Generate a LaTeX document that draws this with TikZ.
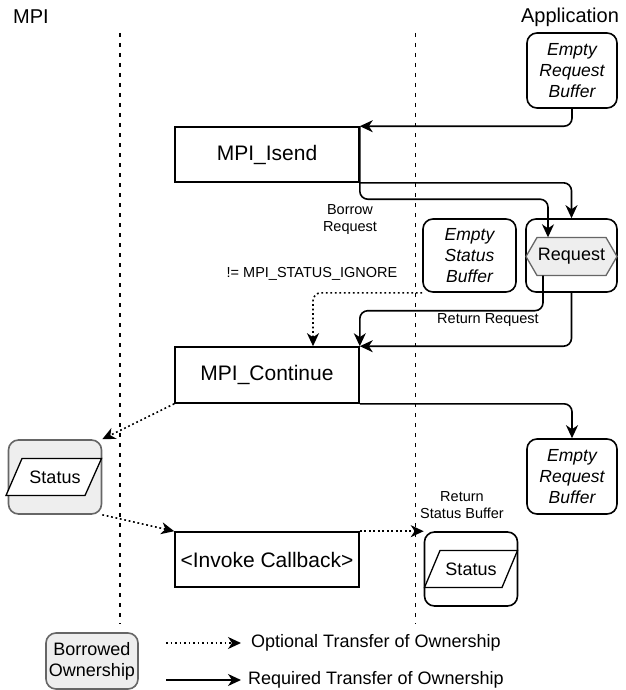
\documentclass[tikz,border=0pt]{standalone}
\usepackage{fontspec}
\setmainfont{Liberation Sans}
\usetikzlibrary{arrows.meta,calc}
\definecolor{gfill}{HTML}{EEEEEE}
\definecolor{gline}{HTML}{666666}
\tikzset{
  lane/.style={line width=1.4pt, dash pattern=on 4pt off 6pt},
  proc/.style={draw, line width=1.6pt, minimum width=184pt, minimum height=55pt, inner sep=0pt, font=\fontsize{21}{25}\selectfont},
  buf/.style={draw, rounded corners=10pt, line width=1.6pt, minimum width=92pt, minimum height=74pt, inner sep=0pt, align=center, font=\fontsize{17.5}{21}\selectfont\itshape},
  gbuf/.style={buf, draw=gline, fill=gfill},
  arr/.style={line width=1.6pt, rounded corners=8pt, -{Stealth[length=13pt,width=12pt,inset=4pt]}},
  opt/.style={arr, dash pattern=on 1.8pt off 2.7pt},
  lbl/.style={font=\fontsize{14.5}{16.5}\selectfont, align=center, inner sep=0pt},
  ttl/.style={font=\fontsize{20}{24}\selectfont, inner sep=0pt},
  leg/.style={font=\fontsize{18}{21}\selectfont, inner sep=0pt, anchor=west},
  para/.style={draw, fill=white, line width=1.3pt},
  stxt/.style={font=\fontsize{18}{21}\selectfont, inner sep=0pt}
}
\begin{document}
\begin{tikzpicture}[x=1pt,y=-1pt]
\useasboundingbox (0,0) rectangle (625,690);
% titles
\node[ttl] (mpit) at (31,17) {MPI};
\node[ttl] (appt) at (570,17) {Application};
% lanes
\coordinate (l1t) at (120,33); \coordinate (l1b) at (120,624);
\coordinate (l2t) at (415.5,33); \coordinate (l2b) at (415.5,624);
\draw[lane] (l1t) -- (l1b);
\draw[lane] (l2t) -- (l2b);
% nodes
\node[buf] (erb1) at (572,70.5) [minimum width=90pt, minimum height=75pt] {Empty\\Request\\Buffer};
\node[proc] (isend) at (267,154.5) {MPI\_Isend};
\node[buf] (esb) at (469.5,255.5) [minimum width=93pt, minimum height=73pt] {Empty\\Status\\Buffer};
\node[buf] (reqbox) at (571.5,255.5) [minimum width=91pt, minimum height=73pt] {};
\draw[draw=gline, fill=gfill, line width=1.3pt] (526,256.5) -- (537,237.5) -- (606,237.5) -- (617,256.5) -- (606,275.5) -- (537,275.5) -- cycle;
\node[inner sep=0pt, minimum width=91pt, minimum height=38pt, font=\fontsize{18}{21}\selectfont] (reqhex) at (571.5,256.5) {Request};
\node[proc] (cont) at (267,375) [minimum height=56pt] {MPI\_Continue};
\node[gbuf] (stat1) at (55,477) [minimum width=93pt, minimum height=74pt] {};
\draw[para] ($(stat1)+(-49,18.5)$) -- ($(stat1)+(-33,-18.5)$) -- ($(stat1)+(46.5,-18.5)$) -- ($(stat1)+(30,18.5)$) -- cycle;
\node[stxt] (s1t) at (stat1) {Status};
\node[buf] (erb2) at (572,476.5) [minimum width=90pt, minimum height=75pt] {Empty\\Request\\Buffer};
\node[proc] (invoke) at (267,559.5) {\textless Invoke Callback\textgreater};
\node[buf] (stat2) at (471,569) [minimum width=93pt, minimum height=74pt] {};
\draw[para] ($(stat2)+(-46.5,18.5)$) -- ($(stat2)+(-31,-18.5)$) -- ($(stat2)+(46.5,-18.5)$) -- ($(stat2)+(31,18.5)$) -- cycle;
\node[stxt] (s2t) at (stat2) {Status};
% labels
\node[lbl] (lborrow) at (350,219.5) {Borrow\\Request};
\node[lbl] (lign) at (312,274) {!= MPI\_STATUS\_IGNORE};
\node[lbl] (lret) at (488,320) {Return Request};
\node[lbl] (lrsb) at (462,505) {Return\\Status Buffer};
% connectors
\coordinate (hexin) at ([xshift=-23.5pt]reqhex.north);
\coordinate (hexout) at ([xshift=-28.5pt]reqhex.south);
\coordinate (contin) at ([xshift=46pt]cont.north);
\draw[arr] (erb1.south) |- (isend.north east);
\draw[arr] (isend.north east) -- ++(0,73) -| (hexin);
\draw[arr] (isend.south east) -| (reqbox.north);
\draw[opt] (esb.south west) -| (contin);
\draw[arr] (hexout) -- ++(0,35) -| (cont.north east);
\draw[arr] (reqbox.south) |- (cont.north east);
\draw[arr] (cont.south east) -| (erb2.north);
\draw[opt] (cont.south west) -- (stat1.north east);
\draw[opt] (stat1.south east) -- (invoke.north west);
\draw[opt] (invoke.north east) -- (stat2.north west);
% legend
\node[gbuf, minimum width=92pt, minimum height=56pt, font=\fontsize{18}{21}\selectfont] (legbox) at (92,661) {Borrowed\\Ownership};
\coordinate (o1) at (166,643); \coordinate (o2) at (241,643);
\coordinate (r1) at (166,680); \coordinate (r2) at (241,680);
\draw[opt] (o1) -- (o2);
\draw[arr] (r1) -- (r2);
\node[leg] (lopt) at (251,643) {Optional Transfer of Ownership};
\node[leg] (lreq) at (248,680) {Required Transfer of Ownership};
\end{tikzpicture}
\end{document}
